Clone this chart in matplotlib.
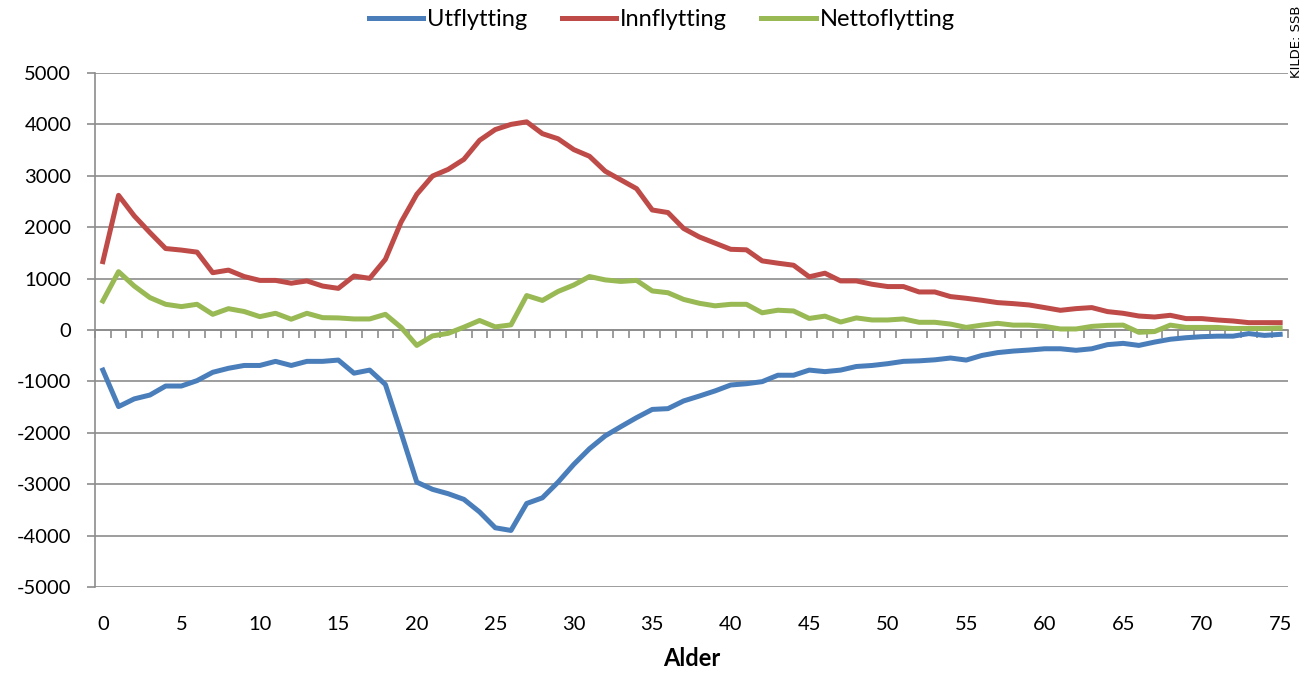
import matplotlib.pyplot as plt
import numpy as np

plt.rcParams['font.family'] = ['Lato', 'DejaVu Sans']

alder = np.arange(76)

utflytting = [-780, -1490, -1340, -1265, -1090, -1090, -985, -823, -745, -690,
              -690, -610, -690, -610, -610, -585, -840, -780, -1060, -2000,
              -2960, -3100, -3185, -3295, -3540, -3848, -3900, -3375, -3265, -2960,
              -2615, -2310, -2060, -1880, -1705, -1545, -1530, -1380, -1285, -1185,
              -1070, -1045, -1005, -880, -880, -780, -810, -780, -710, -690,
              -655, -610, -600, -580, -545, -585, -495, -440, -410, -390,
              -365, -365, -395, -365, -285, -260, -300, -235, -180, -150,
              -130, -120, -120, -70, -105, -85]

innflytting = [1330, 2620, 2220, 1895, 1585, 1555, 1515, 1115, 1165, 1040,
               965, 965, 910, 955, 855, 810, 1050, 1005, 1375, 2100,
               2640, 2995, 3125, 3320, 3690, 3900, 4000, 4050, 3820, 3720,
               3510, 3380, 3090, 2920, 2750, 2335, 2285, 1975, 1810, 1690,
               1570, 1560, 1345, 1300, 1260, 1035, 1105, 955, 955, 890,
               845, 845, 740, 740, 650, 617, 578, 533, 513, 487,
               436, 383, 416, 436, 358, 325, 272, 253, 286, 222,
               222, 195, 175, 143, 143, 143]

nettoflytting = [565, 1135, 855, 630, 500, 455, 500, 305, 415, 360,
                 260, 325, 210, 325, 240, 235, 215, 215, 305, 50,
                 -300, -115, -65, 55, 185, 60, 100, 670, 575, 750,
                 875, 1040, 975, 945, 965, 760, 725, 595, 520, 470,
                 500, 500, 335, 385, 370, 225, 270, 155, 235, 195,
                 195, 215, 150, 150, 115, 50, 95, 130, 95, 95,
                 70, 20, 20, 70, 90, 95, -45, -30, 95, 50,
                 50, 50, 30, 30, 30, 40]

y_ticks = np.arange(-5000, 5001, 1000)
x_labels = np.arange(0, 76, 5)

grid_c = "#8c8c8c"

fig = plt.figure(figsize=(13.09, 6.75), dpi=100)
ax = fig.add_axes([95 / 1309, 88 / 675, 1193 / 1309, 514 / 675])

ax.plot(alder, utflytting, color="#4a7ebb", lw=3.6, label="Utflytting", solid_joinstyle="round")
ax.plot(alder, innflytting, color="#be4b48", lw=3.6, label="Innflytting", solid_joinstyle="round")
ax.plot(alder, nettoflytting, color="#98b954", lw=3.6, label="Nettoflytting", solid_joinstyle="round")

ax.set_xlim(-0.5, 75.5)
ax.set_ylim(-5000, 5000)

ax.set_yticks(y_ticks, [str(v) for v in y_ticks])
ax.yaxis.grid(True, color=grid_c, lw=1.2)
ax.set_axisbelow(True)

for s in ["top", "right", "bottom"]:
    ax.spines[s].set_visible(False)
ax.spines["left"].set_color(grid_c)
ax.spines["left"].set_linewidth(1.2)
ax.tick_params(axis="y", direction="out", length=6, width=1.2, color=grid_c,
               labelsize=14.5, pad=11)

# labels at the bottom, no tick marks
ax.set_xticks(x_labels, [str(v) for v in x_labels])
ax.tick_params(axis="x", length=0, labelsize=14.5, pad=21)

# category axis drawn through zero, tick marks between categories, pointing down
sec = ax.secondary_xaxis(0.5)
sec.set_xticks(np.arange(-0.5, 76, 1), [""] * 77)
sec.spines["bottom"].set_color(grid_c)
sec.spines["bottom"].set_linewidth(1.2)
sec.spines["top"].set_color(grid_c)
sec.spines["top"].set_linewidth(1.2)
sec.tick_params(direction="in", length=6, width=1.2, color=grid_c)

ax.set_xlabel("Alder", fontsize=17, fontweight="bold", labelpad=10)

fig.legend(loc="center", bbox_to_anchor=(662 / 1309, 1 - 20 / 675), ncol=3,
           frameon=False, fontsize=17, handlelength=2.3, handletextpad=0.17,
           columnspacing=1.45)

fig.text(1 - 12 / 1309, 1 - 5 / 675, "KILDE: SSB", rotation=90, ha="center",
         va="top", fontsize=9.5, family=["DejaVu Sans"])

fig.savefig("out.png", dpi=100)
